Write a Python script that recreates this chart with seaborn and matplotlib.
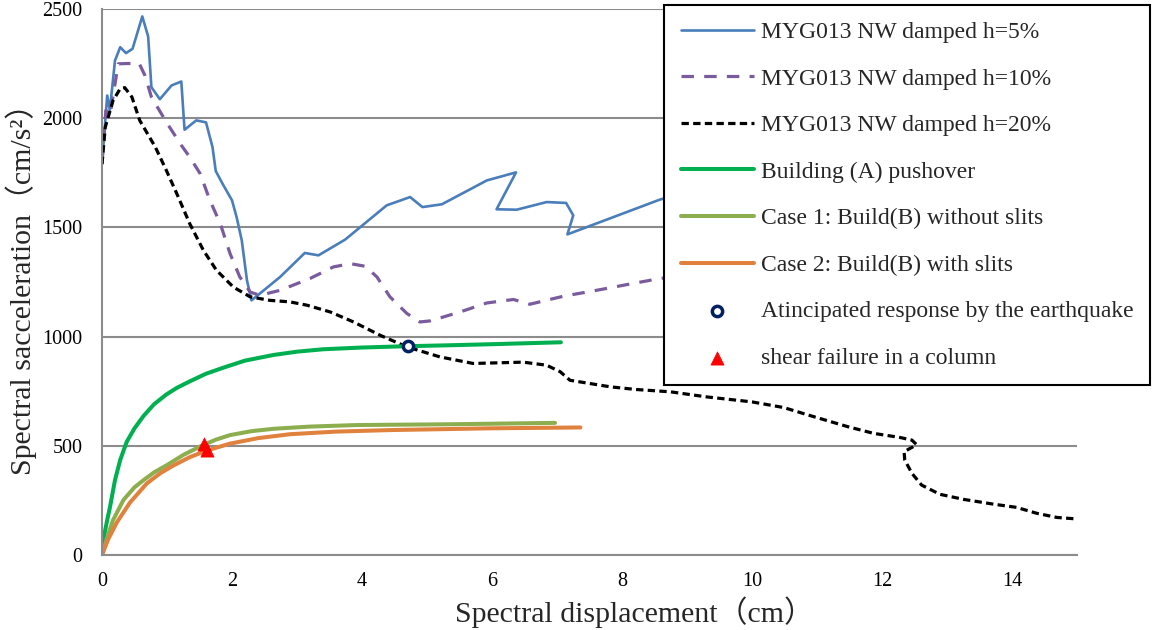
import matplotlib
matplotlib.use("Agg")
import matplotlib.pyplot as plt
import seaborn as sns

# spectra of MYG013 NW (Sd in cm, Sa in cm/s2)
sd_h5 = [0.0, 0.08, 0.12, 0.2, 0.28, 0.37, 0.47, 0.62, 0.71, 0.76, 0.89, 1.07, 1.22, 1.27,
         1.45, 1.6, 1.7, 1.75, 1.86, 2.0, 2.07, 2.15, 2.23, 2.3, 2.74, 3.12, 3.33, 3.74,
         4.38, 4.74, 4.93, 5.23, 5.92, 6.37, 6.07, 6.38, 6.84, 7.14, 7.25, 7.16, 8.58, 9.3]
sa_h5 = [1790, 2104, 2036, 2264, 2325, 2298, 2318, 2466, 2374, 2142, 2087, 2150, 2168, 1947,
         1990, 1981, 1868, 1758, 1697, 1624, 1548, 1441, 1258, 1166, 1273, 1383, 1372, 1444,
         1601, 1639, 1593, 1606, 1715, 1752, 1583, 1581, 1616, 1612, 1555, 1468, 1627, 1690]

sd_h10 = [0.0, 0.06, 0.12, 0.25, 0.57, 0.66, 0.76, 0.99, 1.22, 1.35, 1.51, 1.66, 1.82, 1.97,
          2.12, 2.28, 2.43, 2.74, 3.2, 3.56, 3.82, 4.05, 4.23, 4.43, 4.69, 4.89, 5.05, 5.51,
          5.92, 6.33, 6.58, 7.1, 7.61, 8.02, 8.58, 9.3]
sa_h10 = [1790, 2036, 2010, 2249, 2252, 2196, 2097, 1982, 1876, 1822, 1746, 1624, 1517, 1380,
          1273, 1204, 1189, 1212, 1266, 1319, 1334, 1322, 1273, 1182, 1106, 1067, 1072, 1113,
          1154, 1170, 1148, 1185, 1212, 1235, 1266, 1290]

sd_h20 = [0.0, 0.05, 0.17, 0.28, 0.35, 0.46, 0.58, 0.82, 0.99, 1.15, 1.35, 1.56, 1.76, 2.02,
          2.28, 2.58, 2.89, 3.15, 3.51, 3.87, 4.28, 4.69, 5.2, 5.71, 6.48, 6.84, 7.05, 7.2,
          7.51, 7.82, 8.21, 8.75, 9.3, 10.0, 10.49, 10.92, 11.48, 11.87, 12.28, 12.46, 12.53,
          12.48, 12.34, 12.35, 12.46, 12.61, 12.89, 13.25, 13.71, 14.07, 14.38, 14.69, 15.0]
sa_h20 = [1790, 1959, 2081, 2135, 2140, 2097, 1990, 1868, 1761, 1655, 1517, 1395, 1304, 1227,
          1182, 1166, 1159, 1144, 1113, 1067, 1006, 953, 907, 877, 883, 869, 839, 800,
          785, 770, 758, 747, 724, 701, 675, 636, 587, 557, 538, 526, 506,
          496, 473, 435, 374, 320, 278, 255, 233, 218, 191, 172, 165]

# pushover curves
sd_a = [0.0, 0.04, 0.08, 0.12, 0.2, 0.28, 0.38, 0.5, 0.64, 0.8, 0.99, 1.15, 1.35, 1.6, 1.87,
        2.2, 2.64, 3.0, 3.4, 4.0, 4.69, 5.3, 5.97, 7.06]
sa_a = [0, 100, 160, 215, 343, 435, 518, 580, 637, 690, 735, 765, 795, 830, 858,
        890, 916, 931, 942, 950, 956, 960, 965, 974]

sd_case1 = [0.0, 0.08, 0.17, 0.33, 0.5, 0.64, 0.8, 0.99, 1.25, 1.51, 1.75, 1.97, 2.3, 2.64,
            3.2, 3.92, 5.46, 6.97]
sa_case1 = [0, 80, 160, 252, 310, 343, 378, 410, 458, 497, 528, 549, 567, 578,
            588, 595, 599, 605]

sd_case2 = [0.0, 0.1, 0.23, 0.43, 0.69, 0.9, 1.1, 1.35, 1.61, 1.97, 2.4, 2.89, 3.6, 4.43,
            5.97, 7.36]
sa_case2 = [0, 75, 150, 240, 328, 375, 410, 448, 478, 510, 535, 553, 565, 572,
            580, 584]

resp_sd = [4.7]
resp_sa = [956]
shear_sd = [1.575, 1.62]
shear_sa = [510, 480]

labels = ["MYG013 NW damped h=5%", "MYG013 NW damped h=10%", "MYG013 NW damped h=20%",
          "Building (A) pushover", "Case 1: Build(B) without slits", "Case 2: Build(B) with slits",
          "Atincipated response by the earthquake", "shear failure in a column"]

sns.set_theme(style="white")
plt.rcParams['font.family'] = ['Liberation Serif', 'Noto Sans CJK JP', 'DejaVu Sans']

fig = plt.figure(figsize=(11.55, 6.3), dpi=100)
ax = fig.add_axes([102 / 1155, 75 / 630, 975 / 1155, 546 / 630])

sns.lineplot(x=sd_h5, y=sa_h5, sort=False, estimator=None, color="#4A7EBB", linewidth=1.9,
             label=labels[0], ax=ax)
sns.lineplot(x=sd_h10, y=sa_h10, sort=False, estimator=None, color="#7A5C9E", linewidth=2.3,
             linestyle=(0, (3.9, 3.2)), label=labels[1], ax=ax)
sns.lineplot(x=sd_h20, y=sa_h20, sort=False, estimator=None, color="black", linewidth=2.3,
             linestyle=(0, (2.3, 1.35)), label=labels[2], ax=ax)
sns.lineplot(x=sd_a, y=sa_a, sort=False, estimator=None, color="#00B050", linewidth=2.9,
             label=labels[3], ax=ax)
sns.lineplot(x=sd_case1, y=sa_case1, sort=False, estimator=None, color="#8DAE4E", linewidth=2.9,
             label=labels[4], ax=ax)
sns.lineplot(x=sd_case2, y=sa_case2, sort=False, estimator=None, color="#E0823D", linewidth=2.9,
             label=labels[5], ax=ax)
sns.scatterplot(x=resp_sd, y=resp_sa, marker="o", s=55, color="white", edgecolor="#002060",
                linewidth=2.5, label=labels[6], ax=ax, zorder=5)
sns.scatterplot(x=shear_sd, y=shear_sa, marker="^", s=90, color="#FF0000", edgecolor="#FF0000",
                linewidth=0.5, label=labels[7], ax=ax, zorder=5)

ax.set_xlim(0, 15)
ax.set_ylim(0, 2500)
ax.set_xticks(range(0, 15, 2))
ax.set_yticks(range(0, 2501, 500))
ax.grid(axis="y", color="#8C8C8C", linewidth=1.5)
ax.grid(axis="x", visible=False)
for side in ["right", "top"]:
    ax.spines[side].set_visible(False)
for side in ["left", "bottom"]:
    ax.spines[side].set_color("#8C8C8C")
    ax.spines[side].set_linewidth(1.5)
ax.tick_params(axis="both", length=0, labelsize=14.5, colors="black")
ax.tick_params(axis="y", pad=14)
ax.tick_params(axis="x", pad=12)

ax.set_xlabel("Spectral displacement（cm）", fontsize=21.5, va="center")
ax.set_ylabel("Spectral sacceleration（cm/s²）", fontsize=21.5, va="center")
ax.xaxis.set_label_coords(0.546, -0.104)
ax.yaxis.set_label_coords(-0.083, 0.5)

handles, labs = ax.get_legend_handles_labels()
leg = ax.legend(handles, labs, loc="upper right", bbox_to_anchor=(1150 / 1155, 1 - 5 / 630),
                bbox_transform=fig.transFigure, borderaxespad=0, fontsize=17,
                frameon=True, fancybox=False, edgecolor="black", framealpha=1,
                handlelength=3.1, handletextpad=0.3, labelspacing=1.06, borderpad=0.7)
leg.get_frame().set_linewidth(1.5)

fig.savefig("out.png", dpi=100)
